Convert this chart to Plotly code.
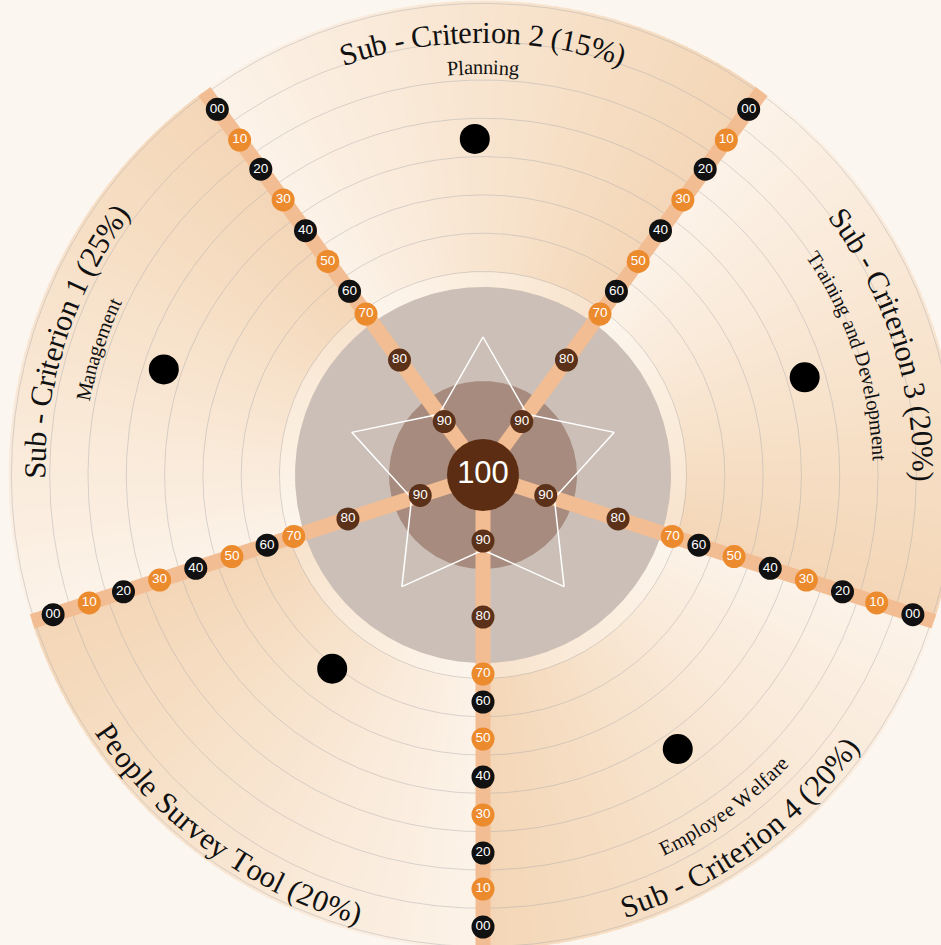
import numpy as np
import plotly.graph_objects as go

# ---------------- data ----------------
criteria = ["Sub - Criterion 1 (25%)", "Sub - Criterion 2 (15%)", "Sub - Criterion 3 (20%)",
            "Sub - Criterion 4 (20%)", "People Survey Tool (20%)"]
subtitles = ["Management", "Planning", "Training and Development", "Employee Welfare", ""]
sector_center_deg = [162, 90, 18, 306, 234]          # direction of each sector
scores = [31, 31, 31, 31, 55]                        # black dot score per sector
dot_angle_offset = [-0.3, 1.4, -1.1, -0.6, -1.9]     # small angular offset of each dot
tick_values = [0, 10, 20, 30, 40, 50, 60, 70, 80, 90, 100]
tick_labels = ["00", "10", "20", "30", "40", "50", "60", "70", "80", "90", "100"]

# ---------------- scale / style ----------------
W, H = 941, 945
CX, CY = 483, 475
# radial scale (score -> pixel radius), non-linear as in the original
scale_r = [452, 414, 378, 340, 302, 264, 227, 199, 142, 66, 0]
def rad(score):
    return float(np.interp(score, tick_values, scale_r))

R_OUT = 474
ring_r = [203.5 + 38.3 * k for k in range(8)]
title_r = [448, 442, 440, 455, 456]
sub_r = [407, 408, 397, 415, 0]
ccw_text = [False, False, False, True, True]

BG = "#fcf6f1"
DARK = np.array([244, 214, 182])
LIGHT = np.array([252, 243, 233])

def pol(r, deg):
    t = np.radians(deg)
    return r * np.cos(t), r * np.sin(t)

fig = go.Figure()

# sector gradient fills
NSL = 48
for c in sector_center_deg:
    a0 = c - 36
    for k in range(NSL):
        t0 = a0 + 72 * k / NSL
        t1 = a0 + 72 * (k + 1) / NSL + 0.3
        f = (k + 0.5) / NSL
        col = DARK + (LIGHT - DARK) * f
        colstr = "rgb(%d,%d,%d)" % tuple(col.round().astype(int))
        angs = np.linspace(t0, t1, 6)
        xs, ys = pol(R_OUT, angs)
        fig.add_trace(go.Scatter(x=np.r_[0, xs, 0], y=np.r_[0, ys, 0], mode="lines",
                                 fill="toself", fillcolor=colstr,
                                 line=dict(width=0.6, color=colstr),
                                 hoverinfo="skip", showlegend=False))

# grid rings
th = np.linspace(0, 360, 721)
for r in ring_r:
    xs, ys = pol(r, th)
    fig.add_trace(go.Scatter(x=xs, y=ys, mode="lines",
                             line=dict(width=0.7, color="rgba(165,165,170,0.6)"),
                             hoverinfo="skip", showlegend=False))

# light halo around grey disk
xo, yo = pol(203, th)
xi, yi = pol(188, th[::-1])
fig.add_trace(go.Scatter(x=np.r_[xo, xi], y=np.r_[yo, yi], mode="lines", fill="toself",
                         fillcolor="rgba(255,251,246,0.35)", line=dict(width=0),
                         hoverinfo="skip", showlegend=False))

# grey and brown disks
for r, col in [(188, "#cbbfb7"), (94, "#a68b7e")]:
    xs, ys = pol(r, th)
    fig.add_trace(go.Scatter(x=xs, y=ys, mode="lines", fill="toself", fillcolor=col,
                             line=dict(width=0, color=col), hoverinfo="skip", showlegend=False))

# spokes
spoke_deg = [c - 36 for c in sector_center_deg]
for a in spoke_deg:
    xs, ys = pol(np.array([0, R_OUT]), a)
    fig.add_trace(go.Scatter(x=xs, y=ys, mode="lines", line=dict(width=15, color="#f3bd93"),
                             hoverinfo="skip", showlegend=False))

# star
star_a = []
star_r = []
for k in range(5):
    star_a += [18 + 72 * k, 54 + 72 * k]
    star_r += [138, 75]
star_a.append(star_a[0]); star_r.append(star_r[0])
sx, sy = pol(np.array(star_r), np.array(star_a))
fig.add_trace(go.Scatter(x=sx, y=sy, mode="lines", line=dict(width=1.5, color="white"),
                         hoverinfo="skip", showlegend=False))

# spoke labels
def label_color(v):
    if v >= 80:
        return "#5b3119"
    return "#111111" if (v // 10) % 2 == 0 else "#ec8a2e"

lx, ly, lt, lc = [], [], [], []
for a in spoke_deg:
    for v, t in zip(tick_values[:-1], tick_labels[:-1]):
        x, y = pol(rad(v), a)
        lx.append(x); ly.append(y); lt.append(t); lc.append(label_color(v))
fig.add_trace(go.Scatter(x=lx, y=ly, mode="markers+text", text=lt, textposition="middle center",
                         marker=dict(size=23, color=lc, line=dict(width=0)),
                         textfont=dict(family="Liberation Sans Narrow, Arial Narrow, Arial", size=13.5,
                                       color="white"),
                         hoverinfo="skip", showlegend=False))
# centre 100
fig.add_trace(go.Scatter(x=[0], y=[rad(100)], mode="markers+text", text=[tick_labels[-1]],
                         textposition="middle center",
                         marker=dict(size=72, color="#5c2d12"),
                         textfont=dict(family="Liberation Sans Narrow, Arial Narrow, Arial", size=31,
                                       color="white"),
                         hoverinfo="skip", showlegend=False))

# score dots
dx, dy = [], []
for c, s, o in zip(sector_center_deg, scores, dot_angle_offset):
    x, y = pol(rad(s), c + o)
    dx.append(x); dy.append(y)
fig.add_trace(go.Scatter(x=dx, y=dy, mode="markers", marker=dict(size=30, color="black"),
                         hoverinfo="skip", showlegend=False))

# curved text
TW = {' ': 250, '!': 333, '%': 833, '(': 333, ')': 333, '-': 333, '.': 250,
      '0': 500, '1': 500, '2': 500, '3': 500, '4': 500, '5': 500, '6': 500, '7': 500, '8': 500, '9': 500,
      'A': 722, 'B': 667, 'C': 667, 'D': 722, 'E': 611, 'F': 556, 'G': 722, 'H': 722, 'I': 333,
      'J': 389, 'K': 722, 'L': 611, 'M': 889, 'N': 722, 'O': 722, 'P': 556, 'Q': 722, 'R': 667,
      'S': 556, 'T': 611, 'U': 722, 'V': 722, 'W': 944, 'X': 722, 'Y': 722, 'Z': 611,
      'a': 444, 'b': 500, 'c': 444, 'd': 500, 'e': 444, 'f': 333, 'g': 500, 'h': 500, 'i': 278,
      'j': 278, 'k': 500, 'l': 278, 'm': 778, 'n': 500, 'o': 500, 'p': 500, 'q': 500, 'r': 333,
      's': 389, 't': 278, 'u': 500, 'v': 500, 'w': 722, 'x': 500, 'y': 500, 'z': 444}
FONT = "Liberation Serif, Times New Roman, serif"

def arc_text(text, theta_c, r, size, ccw, color="#111111"):
    total = sum(TW.get(ch, 500) for ch in text) / 1000 * size
    s = -total / 2
    out = []
    for ch in text:
        w = TW.get(ch, 500) / 1000 * size
        mid = s + w / 2
        s += w
        if ch == ' ':
            continue
        if ccw:
            t = theta_c + np.degrees(mid / r)
            rot = -(t + 90)
        else:
            t = theta_c - np.degrees(mid / r)
            rot = 90 - t
        rot = ((rot + 180) % 360) - 180
        x, y = pol(r, t)
        out.append(dict(x=x, y=y, xref="x", yref="y", text=ch, showarrow=False,
                        textangle=rot, xanchor="center", yanchor="middle",
                        font=dict(family=FONT, size=size, color=color)))
    return out

anns = []
for i, c in enumerate(sector_center_deg):
    anns += arc_text(criteria[i], c, title_r[i], 30.5, ccw_text[i])
    if subtitles[i]:
        anns += arc_text(subtitles[i], c, sub_r[i], 20.5, ccw_text[i])

fig.update_layout(width=W, height=H, margin=dict(l=0, r=0, t=0, b=0),
                  paper_bgcolor=BG, plot_bgcolor=BG, annotations=anns,
                  showlegend=False, dragmode=False)
fig.update_xaxes(range=[-CX, W - CX], visible=False, fixedrange=True)
fig.update_yaxes(range=[-(H - CY), CY], visible=False, fixedrange=True)
fig.write_html("out.html", config={"displayModeBar": False})
